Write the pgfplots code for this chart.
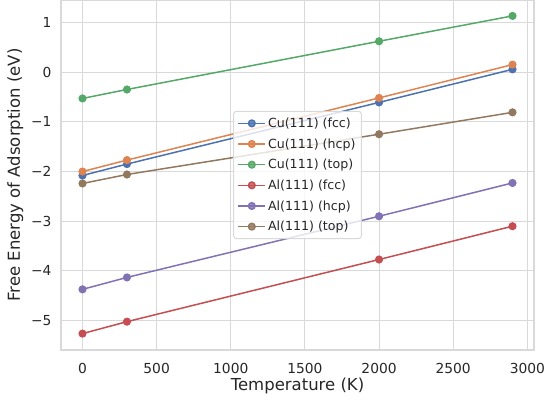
\documentclass[border=0pt]{standalone}
\usepackage{fontspec}
\setmainfont{DejaVu Sans}
\usepackage{pgfplots}
\pgfplotsset{compat=1.18}
\usetikzlibrary{calc}

\definecolor{sbblue}{HTML}{4C72B0}
\definecolor{sborange}{HTML}{DD8452}
\definecolor{sbgreen}{HTML}{55A868}
\definecolor{sbred}{HTML}{C44E52}
\definecolor{sbpurple}{HTML}{8172B3}
\definecolor{sbbrown}{HTML}{937860}
\definecolor{gridgray}{HTML}{D9D9D9}
\definecolor{textgray}{HTML}{262626}

\begin{document}
\begin{tikzpicture}
\begin{axis}[
    name=ax,
    scale only axis,
    width=473bp, height=350bp,
    xmin=-145, xmax=3045,
    ymin=-5.59, ymax=1.45,
    xtick={0,500,...,3000},
    ytick={-5,-4,-3,-2,-1,0,1},
    yticklabels={−5,−4,−3,−2,−1,0,1},
    /pgf/number format/1000 sep={},
    /pgf/number format/assume math mode=true,
    grid=major,
    grid style={color=gridgray, line width=1bp},
    axis line style={color=gridgray, line width=1.2bp},
    major tick length=0pt,
    tick label style={font=\fontsize{13.8bp}{16bp}\selectfont, text=textgray},
    xticklabel style={yshift=-10bp},
    yticklabel style={xshift=-6bp},
    label style={font=\fontsize{16.5bp}{19bp}\selectfont, text=textgray},
    xlabel={Temperature (K)},
    ylabel={Free Energy of Adsorption (eV)},
    xlabel style={yshift=3bp},
    ylabel style={yshift=1bp},
    every axis plot/.append style={line width=1.5bp, mark=*, mark size=3.3bp},
    legend cell align=left,
    legend image code/.code={
        \draw[mark repeat=2, mark phase=2, line width=1.5bp, #1] plot coordinates {(0bp,0bp) (13.5bp,0bp) (27bp,0bp)};
    },
    legend style={at={(0.5,0.5)}, anchor=center, draw=gridgray, line width=1bp,
        rounded corners=3bp, fill=white, fill opacity=0.8, text opacity=1,
        font=\fontsize{12.6bp}{15bp}\selectfont, text=textgray,
        row sep=5.6bp, inner xsep=4bp, inner ysep=4.5bp},
]
\addplot[sbblue] coordinates {(0,-2.08) (300,-1.85) (2000,-0.61) (2900,0.055)};
\addlegendentry{Cu(111) (fcc)}
\addplot[sborange] coordinates {(0,-2.00) (300,-1.77) (2000,-0.52) (2900,0.15)};
\addlegendentry{Cu(111) (hcp)}
\addplot[sbgreen] coordinates {(0,-0.53) (300,-0.35) (2000,0.62) (2900,1.13)};
\addlegendentry{Cu(111) (top)}
\addplot[sbred] coordinates {(0,-5.26) (300,-5.02) (2000,-3.77) (2900,-3.10)};
\addlegendentry{Al(111) (fcc)}
\addplot[sbpurple] coordinates {(0,-4.37) (300,-4.13) (2000,-2.90) (2900,-2.23)};
\addlegendentry{Al(111) (hcp)}
\addplot[sbbrown] coordinates {(0,-2.24) (300,-2.06) (2000,-1.25) (2900,-0.81)};
\addlegendentry{Al(111) (top)}
\end{axis}
\pgfresetboundingbox
\path ($(ax.south west)+(-61bp,-52bp)$) rectangle ($(ax.north east)+(10bp,0bp)$);
\end{tikzpicture}
\end{document}
